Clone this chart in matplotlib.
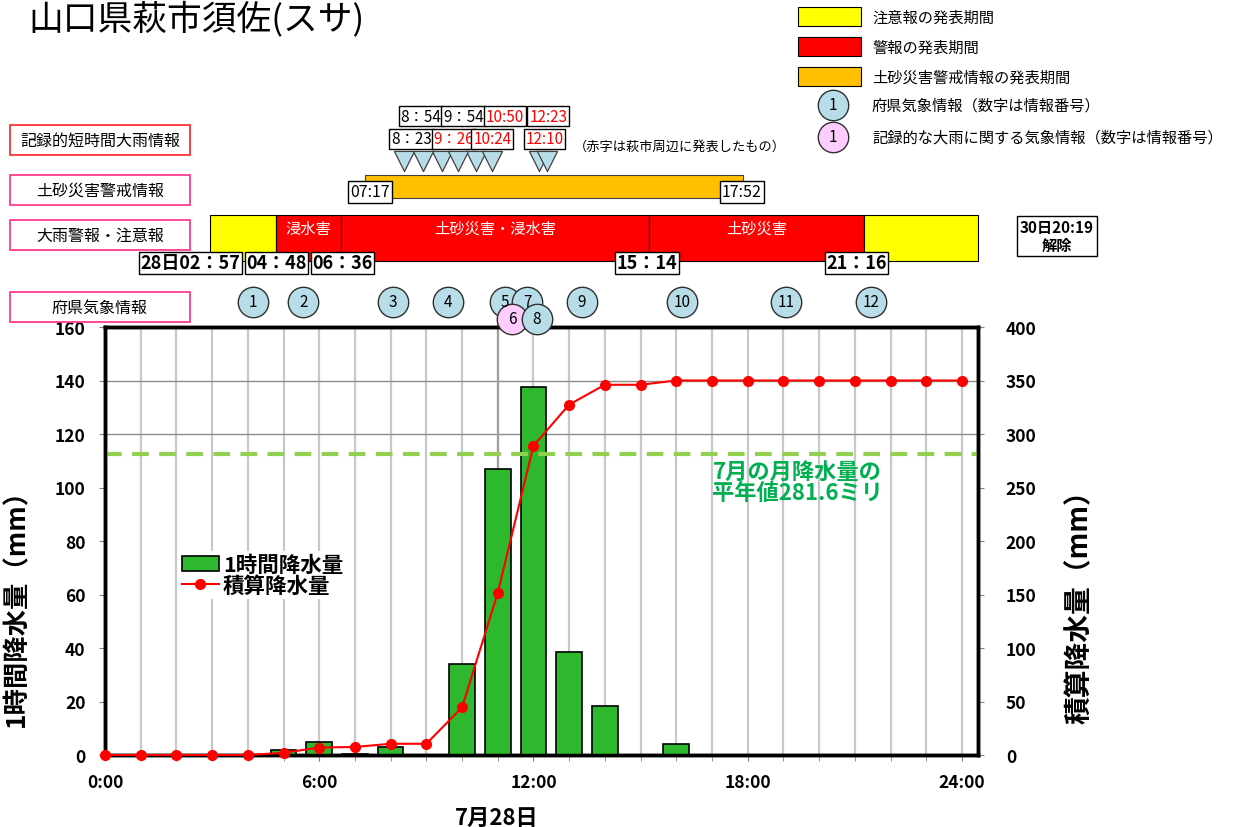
import matplotlib
matplotlib.use("Agg")
import matplotlib.pyplot as plt
from matplotlib import transforms
from matplotlib.patches import Rectangle

plt.rcParams["font.family"] = ["Noto Sans CJK JP", "DejaVu Sans"]

# --- data -----------------------------------------------------------------
hours = list(range(25))
hourly = [0, 0, 0, 0, 0, 2, 5, 0.5, 3, 0, 34, 107, 137.5, 38.5, 18.5, 0, 4,
          0, 0, 0, 0, 0, 0, 0, 0]
cumulative = [0, 0, 0, 0, 0, 2, 7, 7.5, 10.5, 10.5, 44.5, 151.5, 289, 327.5,
              346, 346, 350, 350, 350, 350, 350, 350, 350, 350, 350]
normal_july = 281.6

# heavy-rain warning / advisory periods (hours of 28th)
alert_starts = [2.95, 4.8, 6.6, 15.233, 21.267]
alert_ends = [4.8, 6.6, 15.233, 21.267, 24.45]
alert_kinds = ["advisory", "warning", "warning", "warning", "advisory"]
alert_names = ["", "浸水害", "土砂災害・浸水害", "土砂災害", ""]
alert_time_labels = ["28日02：57", "04：48", "06：36", "15：14", "21：16"]

# sediment disaster alert
sediment_start, sediment_end = 7.283, 17.867
sediment_labels = ["07:17", "17:52"]

# record short-duration heavy rain info
record_upper_times = [8.9, 9.9, 10.833, 12.383]
record_upper_labels = ["8：54", "9：54", "10:50", "12:23"]
record_upper_red = [False, False, True, True]
record_lower_times = [8.383, 9.433, 10.4, 12.167]
record_lower_labels = ["8：23", "9：26", "10:24", "12:10"]
record_lower_red = [False, True, True, True]

# prefectural weather info
info_numbers = [1, 2, 3, 4, 5, 7, 9, 10, 11, 12, 6, 8]
info_times = [4.15, 5.55, 8.07, 9.61, 11.2, 11.82, 13.36, 16.16, 19.08, 21.46,
              11.4, 12.1]
info_lower = [False] * 10 + [True, True]
info_record = [n == 6 for n in info_numbers]

YELLOW, RED, ORANGE = "#FFFF00", "#FF0000", "#FFC000"
BLUE_C, PINK_C = "#B7DDE8", "#FFCCFF"

# --- figure ---------------------------------------------------------------
W, H = 1260, 828
fig = plt.figure(figsize=(W / 100, H / 100), dpi=100)

ax = fig.add_axes([105 / W, 1 - 756 / H, (978 - 105) / W, (756 - 328) / H])
ax.set_xlim(0, 24.45)
ax.set_ylim(0, 160)
ax2 = ax.twinx()
ax2.set_ylim(0, 400)

ax.set_axisbelow(True)
ax.set_xticks([0, 6, 12, 18, 24])
ax.set_xticklabels(["0:00", "6:00", "12:00", "18:00", "24:00"])
ax.set_xticks(hours, minor=True)
ax.grid(which="both", axis="x", color="#C8C8C8", lw=1.6)
for yv in [120, 140]:
    ax.axhline(yv, color="#8C8C8C", lw=1, zorder=1)
ax.axvline(11, ymin=0, ymax=1.08, color="#A0A0A0", lw=1.6, clip_on=False, zorder=1)

bars = ax.bar(hours, hourly, width=0.72, color="#2DB82D", edgecolor="black",
              lw=1.2, zorder=3, label="1時間降水量")
ax2.axhline(normal_july, color="#92D050", lw=3, dashes=(4, 2.5), zorder=2)
line, = ax2.plot(hours, cumulative, "-o", color=RED, lw=1.5, ms=7,
                 clip_on=False, zorder=4, label="積算降水量")

ax.set_yticks(range(0, 161, 20))
ax2.set_yticks(range(0, 401, 50))
for a in (ax, ax2):
    for sp in a.spines.values():
        sp.set_linewidth(2.5)
        sp.set_color("black")
ax.tick_params(axis="y", labelsize=12.5, pad=10, length=4, color="#808080")
ax2.tick_params(axis="y", labelsize=12.5, pad=16, length=4, color="#808080")
ax.tick_params(axis="x", which="both", labelsize=12.5, pad=9, length=4, color="#808080")
for lab in ax.get_xticklabels() + ax.get_yticklabels() + ax2.get_yticklabels():
    lab.set_fontweight("bold")

ax.set_ylabel("1時間降水量（mm）", fontsize=19, fontweight="bold")
ax.yaxis.set_label_coords(-0.086, 0.36)
ax2.set_ylabel("積算降水量（mm）", fontsize=20, fontweight="bold")
ax2.yaxis.set_label_coords(1.10, 0.365)
ax.set_xlabel("7月28日", fontsize=16, fontweight="bold")
ax.xaxis.set_label_coords(0.449, -0.118)

ax.text(19.4, 102, "7月の月降水量の\n平年値281.6ミリ", color="#00B050",
        fontsize=16, fontweight="bold", ha="center", va="center", linespacing=0.9)

ax2.legend(handles=[bars, line], loc="upper left",
           bbox_to_anchor=(168 / W, 1 - 541 / H), bbox_transform=fig.transFigure,
           frameon=True, facecolor="white", edgecolor="none", framealpha=1,
           fancybox=False, prop={"weight": "bold", "size": 15.5},
           handlelength=1.7, handletextpad=0.2, borderpad=0.15, labelspacing=0.0)

# --- annotation layer (pixel coordinates, x in hours where time based) ----
lay = fig.add_axes([0, 0, 1, 1], zorder=10)
lay.patch.set_visible(False)
lay.axis("off")
lay.set_autoscale_on(False)
lay.set_xlim(0, W)
lay.set_ylim(H, 0)
blend = transforms.blended_transform_factory(ax.transData, lay.transData)

fig.text(28 / W, 1 - 29 / H, "山口県萩市須佐(スサ)", fontsize=25, va="baseline")

# row labels
row_labels = ["記録的短時間大雨情報", "土砂災害警戒情報", "大雨警報・注意報", "府県気象情報"]
row_tops = [126, 176, 221, 293]
row_edges = ["#FF3333", "#FF3C8C", "#FF3C8C", "#FF3C8C"]
for lab, top, ec in zip(row_labels, row_tops, row_edges):
    lay.add_patch(Rectangle((10, top), 180, 30, fc="white", ec=ec, lw=1.3))
    lay.text(100, top + 15, lab, fontsize=11.5, ha="center", va="center")

# warnings / advisories
for s, e, kind, name in zip(alert_starts, alert_ends, alert_kinds, alert_names):
    fc = YELLOW if kind == "advisory" else RED
    lay.add_patch(Rectangle((s, 216), e - s, 46, fc=fc, ec="black", lw=0.8,
                            transform=blend))
    if name:
        lay.text((s + e) / 2, 229, name, color="white", fontsize=11,
                 ha="center", va="center", transform=blend)
label_shift = [-20, 0, 2, -2, -8]
for t, lab, dx in zip(alert_starts, alert_time_labels, label_shift):
    lay.annotate(lab, xy=(t, 264), xycoords=blend, xytext=(dx, 0),
                 textcoords="offset pixels", ha="center", va="center",
                 fontsize=13, fontweight="bold",
                 bbox=dict(boxstyle="square,pad=0.08", fc="white", ec="black", lw=1))
lay.text(1057, 237, "30日20:19\n解除", fontsize=11, fontweight="bold",
         ha="center", va="center", linespacing=1.1,
         bbox=dict(boxstyle="square,pad=0.2", fc="white", ec="black", lw=1))

# sediment disaster alert
lay.add_patch(Rectangle((sediment_start, 176), sediment_end - sediment_start, 23,
                        fc=ORANGE, ec="#404040", lw=0.8, transform=blend))
for t, lab, dx in zip([sediment_start, sediment_end], sediment_labels, [5, -1]):
    lay.annotate(lab, xy=(t, 193), xycoords=blend, xytext=(dx, 0),
                 textcoords="offset pixels", ha="center", va="center", fontsize=11.5,
                 bbox=dict(boxstyle="square,pad=0.15", fc="white", ec="black", lw=1))

# record short-duration heavy rain
all_tri = record_lower_times + record_upper_times
lay.scatter(all_tri, [162] * len(all_tri), marker="v", s=210, fc=BLUE_C,
            ec="#404040", lw=0.9, transform=blend, zorder=3)
upper_shift = [-2, 5, 13, 1]
lower_shift = [7, 12, 16, 5]
for times, labs, reds, shifts, yc in [
        (record_upper_times, record_upper_labels, record_upper_red, upper_shift, 117),
        (record_lower_times, record_lower_labels, record_lower_red, lower_shift, 140)]:
    for t, lab, red, dx in zip(times, labs, reds, shifts):
        lay.annotate(lab, xy=(t, yc), xycoords=blend, xytext=(dx, 0),
                     textcoords="offset pixels", ha="center", va="center",
                     fontsize=11, color=RED if red else "black", zorder=4,
                     bbox=dict(boxstyle="square,pad=0.12", fc="white", ec="black", lw=1))
lay.text(680, 147, "（赤字は萩市周辺に発表したもの）", fontsize=9.5, ha="center", va="center")

# prefectural weather info circles
for n, t, low, rec in zip(info_numbers, info_times, info_lower, info_record):
    yc = 320 if low else 303
    lay.scatter([t], [yc], s=480, fc=PINK_C if rec else BLUE_C, ec="#303030",
                lw=1, transform=blend, zorder=5)
    lay.text(t, yc, str(n), fontsize=11, ha="center", va="center",
             transform=blend, zorder=6)

# key (top right)
key_colors = [YELLOW, RED, ORANGE]
key_texts = ["注意報の発表期間", "警報の発表期間", "土砂災害警戒情報の発表期間"]
key_tops = [8, 38, 68]
for c, txt, top in zip(key_colors, key_texts, key_tops):
    lay.add_patch(Rectangle((798, top), 63, 19, fc=c, ec="black", lw=0.8))
    lay.text(872, top + 10, txt, fontsize=11, va="center")
circle_texts = ["府県気象情報（数字は情報番号）", "記録的な大雨に関する気象情報（数字は情報番号）"]
for c, txt, yc in zip([BLUE_C, PINK_C], circle_texts, [106, 138]):
    lay.scatter([833], [yc], s=480, fc=c, ec="#303030", lw=1)
    lay.text(833, yc, "1", fontsize=11, ha="center", va="center")
    lay.text(872, yc, txt, fontsize=11, va="center")

fig.savefig("out.png", dpi=100)
